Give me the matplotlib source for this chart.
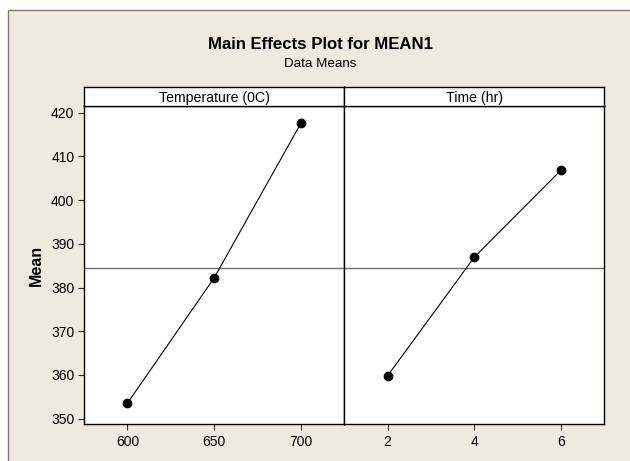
import matplotlib
matplotlib.use("Agg")
import matplotlib.pyplot as plt
from matplotlib.patches import Rectangle
from matplotlib import font_manager
import numpy as np

plt.rcParams['font.family'] = ['Liberation Sans', 'DejaVu Sans']

# ---- data ----
temp_levels = [600, 650, 700]
temp_means = [353.5, 382.2, 417.6]
time_levels = [2, 4, 6]
time_means = [359.8, 386.9, 406.8]
temp_ticks = [600, 650, 700]
time_ticks = [2, 4, 6]
y_ticks = [350, 360, 370, 380, 390, 400, 410, 420]
panel_titles = ["Temperature (0C)", "Time (hr)"]
title = "Main Effects Plot for MEAN1"
subtitle = "Data Means"
ylabel = "Mean"

grand_mean = float(np.mean(temp_means + time_means))

available = {f.name for f in font_manager.fontManager.ttflist}
if 'Liberation Sans Narrow' in available:
    TICK_FAMILY = ['Liberation Sans Narrow', 'Liberation Sans']
    TICK_SIZE = 11.3
else:
    TICK_FAMILY = ['Liberation Sans', 'DejaVu Sans']
    TICK_SIZE = 10.0

W, H = 630, 461
fig = plt.figure(figsize=(W / 100, H / 100), dpi=100)
fig.patch.set_facecolor('white')

BEIGE = '#EEEAE0'
bg = Rectangle((8.3 / W, -0.01), 1.0, 1 - 10 / H + 0.01,
               transform=fig.transFigure, facecolor=BEIGE,
               edgecolor='#7a7a7a', linewidth=1.0, zorder=-10)
fig.patches.append(bg)

def fx(px):
    return px / W

def fy(py):
    return 1 - py / H

top, bot = 105.7, 424.3
strip_top = 86.7
panels = [(84.0, 344.3), (344.3, 604.0)]
xlims = [(575, 725), (1, 7)]
levels = [temp_levels, time_levels]
means = [temp_means, time_means]
xticks = [temp_ticks, time_ticks]

for i, (l, r) in enumerate(panels):
    ax = fig.add_axes([fx(l), fy(bot), (r - l) / W, (bot - top) / H])
    ax.set_zorder(1)
    ax.set_facecolor('white')
    ax.axhline(grand_mean, color='#6e6e6e', lw=1.0, zorder=1)
    ax.plot(levels[i], means[i], color='black', lw=0.8, marker='o',
            markersize=6, markerfacecolor='black', markeredgecolor='black', zorder=3)
    ax.set_xlim(*xlims[i])
    ax.set_ylim(348.7, 421.6)
    ax.set_xticks(xticks[i])
    ax.tick_params(axis='x', direction='out', length=4, width=0.8,
                   pad=3.5, color='#333333')
    if i == 0:
        ax.set_yticks(y_ticks)
        ax.tick_params(axis='y', direction='out', length=4, width=0.8,
                       pad=3, color='#333333')
    else:
        ax.set_yticks([])
    for lab in ax.get_xticklabels() + ax.get_yticklabels():
        lab.set_family(TICK_FAMILY)
        lab.set_fontsize(TICK_SIZE)
    for s in ax.spines.values():
        s.set_linewidth(1.0)
        s.set_color('black')

    sax = fig.add_axes([fx(l), fy(top), (r - l) / W, (top - strip_top) / H])
    sax.set_zorder(1)
    sax.set_facecolor('white')
    sax.set_xticks([])
    sax.set_yticks([])
    for s in sax.spines.values():
        s.set_linewidth(1.0)
        s.set_color('black')
    sax.text(0.5, 0.21, panel_titles[i], ha='center', va='baseline',
             fontsize=10.2, transform=sax.transAxes)

fig.text(fx(320), fy(49.3), title, ha='center', va='baseline',
         fontsize=12.1, fontweight='bold')
fig.text(fx(320), fy(66.7), subtitle, ha='center', va='baseline', fontsize=9.6)
fig.text(fx(36.5), fy(265), ylabel, ha='center', va='center', rotation=90,
         fontsize=11.5, fontweight='bold')

fig.savefig('out.png', dpi=100, facecolor=fig.get_facecolor())
